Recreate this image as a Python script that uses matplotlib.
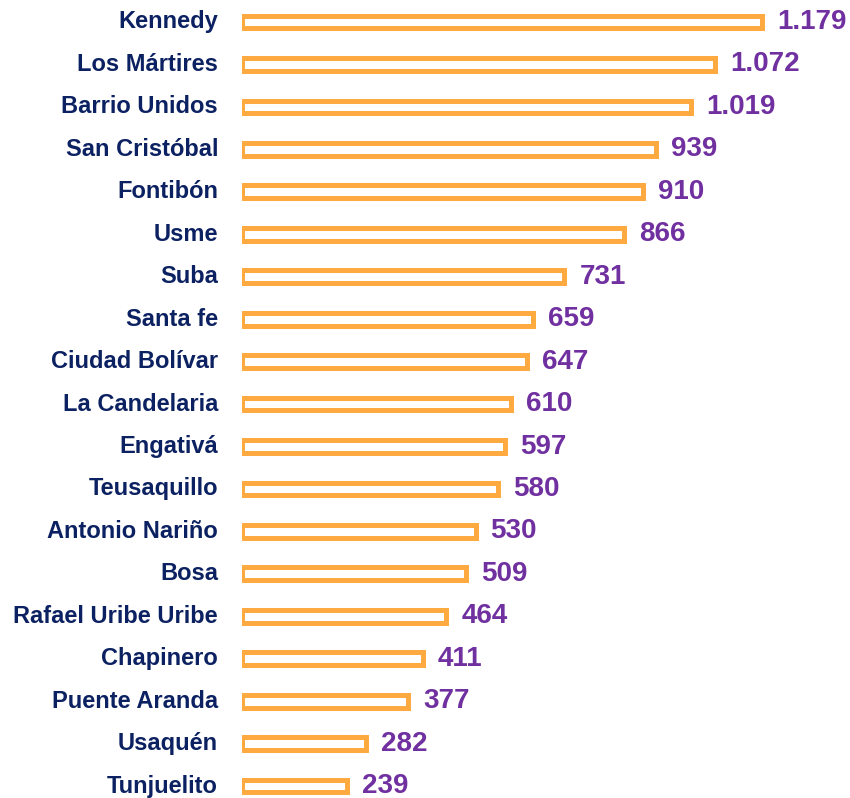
import matplotlib
matplotlib.use("Agg")
import matplotlib.pyplot as plt

# localidades y valores
localidades = ["Kennedy", "Los Mártires", "Barrio Unidos", "San Cristóbal", "Fontibón",
               "Usme", "Suba", "Santa fe", "Ciudad Bolívar", "La Candelaria", "Engativá",
               "Teusaquillo", "Antonio Nariño", "Bosa", "Rafael Uribe Uribe", "Chapinero",
               "Puente Aranda", "Usaquén", "Tunjuelito"]
valores = [1179, 1072, 1019, 939, 910, 866, 731, 659, 647, 610, 597, 580, 530, 509,
           464, 411, 377, 282, 239]

naranja = "#ffaa40"
morado = "#7030a0"
azul = "#0c2161"

plt.rcParams['font.family'] = ['Liberation Sans', 'DejaVu Sans']

fig = plt.figure(figsize=(8.5, 7.98), dpi=100)
ax = fig.add_axes([241.5/850, 0, 1 - 241.5/850, 1])

pos = list(range(len(valores)))
ax.barh(pos, valores, height=0.30, color="white", edgecolor=naranja, linewidth=3.6)

for i, (nom, v) in enumerate(zip(localidades, valores)):
    txt = f"{v:,}".replace(",", ".")
    ax.text(v + 34, i, txt, va="center", ha="left", fontsize=20,
            fontweight="bold", color=morado, clip_on=False)
    ax.text(-53, i, nom, va="center", ha="right", fontsize=17,
            fontweight="bold", color=azul, clip_on=False)

ax.set_xlim(0, 1378)
ax.set_ylim(18.28, -0.518)
ax.axis("off")

fig.savefig("out.png", dpi=100)
